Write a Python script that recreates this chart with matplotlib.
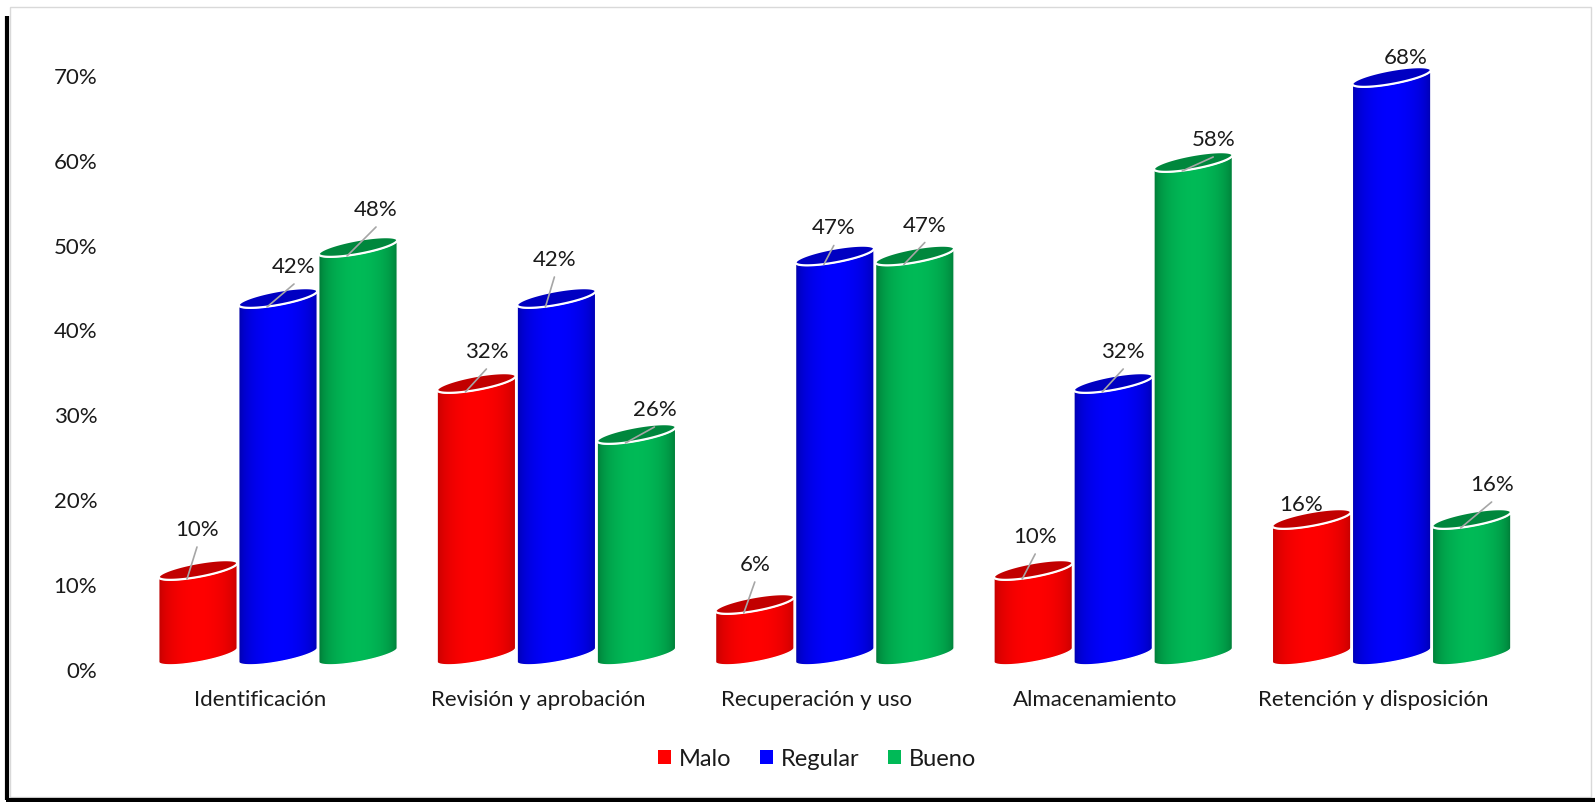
import numpy as np
import matplotlib.pyplot as plt
from matplotlib.patches import Polygon, Patch, Rectangle
from matplotlib.lines import Line2D
from matplotlib.transforms import offset_copy

plt.rcParams['font.family'] = ['Lato', 'DejaVu Sans']

categorias = ['Identificación', 'Revisión y aprobación', 'Recuperación y uso',
              'Almacenamiento', 'Retención y disposición']
series = ['Malo', 'Regular', 'Bueno']
malo = [10, 32, 6, 10, 16]
regular = [42, 42, 47, 32, 68]
bueno = [48, 26, 47, 58, 16]
valores = [malo, regular, bueno]
yticks = [0, 10, 20, 30, 40, 50, 60, 70]

# colores: lado oscuro, centro iluminado, tapa
oscuro = [(0.72, 0.0, 0.0), (0.0, 0.0, 0.62), (0.0, 0.43, 0.19)]
claro = [(1.0, 0.0, 0.0), (0.0, 0.0, 1.0), (0.0, 0.73, 0.34)]
tapa = [(0.76, 0.0, 0.0), (0.0, 0.0, 0.76), (0.0, 0.53, 0.24)]

# posicion de cada etiqueta (px) respecto al centro de la tapa
label_shift = [
    [(-1, -40), (10, -31), (0, -39), (2, -33), (-11, -14)],
    [(16, -31), (-2, -38), (-1, -27), (10, -31), (14, -19)],
    [(18, -37), (18, -24), (10, -30), (20, -22), (20, -34)],
]

W, H = 1595, 802
fig = plt.figure(figsize=(W / 100, H / 100), dpi=100)

# area de trazado en pixeles
L, R, T, B = 100, 1560, 20, 680
pos = [L / W, 1 - B / H, (R - L) / W, (B - T) / H]

# ejes para las etiquetas (pared del fondo, desplazada por la perspectiva)
ax_lbl = fig.add_axes(pos)
ax_lbl.set_xlim((L - 260) / 278.4, (R - 260) / 278.4)
ax_lbl.set_ylim((670 - B) / 8.49, (670 - T) / 8.49)
ax_lbl.set_yticks(yticks)
ax_lbl.set_yticklabels(['{}%'.format(v) for v in yticks])
ax_lbl.set_xticks(range(len(categorias)))
ax_lbl.set_xticklabels(categorias)
ax_lbl.tick_params(axis='both', length=0, labelsize=16, labelcolor='#1a1a1a')
ax_lbl.tick_params(axis='y', pad=2)
ax_lbl.tick_params(axis='x', pad=7)
ax_lbl.set_frame_on(False)
ax_lbl.patch.set_alpha(0)

# ejes para los cilindros
ax = fig.add_axes(pos)
ax.set_xlim((L - 278) / 278.4, (R - 278) / 278.4)
ax.set_ylim((655 - B) / 8.5, (655 - T) / 8.5)
ax.axis('off')
ax.patch.set_alpha(0)

ancho = 0.2874
a = 0.141   # semieje horizontal de la elipse
b = 0.82    # semieje vertical
s = 0.82    # inclinacion de la elipse

t = np.linspace(0, 2 * np.pi, 121)
frente = np.linspace(np.pi, 2 * np.pi, 61)
u = np.linspace(0, 1, 200)
luz = np.sin(np.pi * u) ** 0.45

for j, serie in enumerate(valores):
    grad = np.zeros((1, len(u), 3))
    for c in range(3):
        grad[0, :, c] = oscuro[j][c] + (claro[j][c] - oscuro[j][c]) * luz
    for i, v in enumerate(serie):
        cx = i + (j - 1) * ancho
        z = 2 + i * 3 + j
        xb = cx + a * np.cos(frente)
        yb = b * np.sin(frente) + s * np.cos(frente)
        yt = v + b * np.sin(frente[::-1]) + s * np.cos(frente[::-1])
        cuerpo = Polygon(np.column_stack([np.r_[xb, xb[::-1]], np.r_[yb, yt]]),
                         closed=True, facecolor='none', edgecolor='white',
                         lw=1.0, zorder=z + 0.2)
        ax.add_patch(cuerpo)
        im = ax.imshow(grad, extent=[cx - a, cx + a, -3, v + 3],
                       aspect='auto', zorder=z, interpolation='bilinear')
        im.set_clip_path(cuerpo)
        elipse = Polygon(np.column_stack([cx + a * np.cos(t),
                                          v + b * np.sin(t) + s * np.cos(t)]),
                         closed=True, facecolor=tapa[j], edgecolor='white',
                         lw=1.6, zorder=z + 0.3)
        ax.add_patch(elipse)

        dx, dy = label_shift[j][i]
        ax.annotate('{}%'.format(v), xy=(cx, v), xytext=(dx, -dy),
                    textcoords='offset pixels', ha='center', va='center',
                    fontsize=16, color='#1a1a1a', zorder=40)
        if (9 - (dy + 17)) > 12:
            ax.annotate('', xy=(cx, v),
                        xycoords=offset_copy(ax.transData, fig=fig, x=-11, y=-9, units='dots'),
                        xytext=(dx + 11, -(dy + 17) + 9), textcoords='offset pixels',
                        arrowprops=dict(arrowstyle='-', color='#a6a6a6', lw=1.2,
                                        shrinkA=0, shrinkB=0), zorder=z + 0.5)

handles = [Patch(facecolor=claro[k], edgecolor='none', label=series[k]) for k in range(3)]
fig.legend(handles=handles, loc='center', bbox_to_anchor=(817 / W, 1 - 759 / H),
           ncol=3, frameon=False, fontsize=17, handlelength=0.55, handleheight=0.55,
           handletextpad=0.35, columnspacing=1.2, labelcolor='#1a1a1a')

# marco del grafico con sombra
fig.add_artist(Rectangle((10 / W, 1 - 797 / H), 1581 / W, 790 / H, transform=fig.transFigure,
                         facecolor='none', edgecolor='#d9d9d9', lw=1.0))
fig.add_artist(Line2D([7 / W, 7 / W], [1 - 16 / H, 1 - 800 / H], transform=fig.transFigure,
                      color='black', lw=3.0, solid_capstyle='butt'))
fig.add_artist(Line2D([5.5 / W, 1.0], [1 - 800 / H, 1 - 800 / H], transform=fig.transFigure,
                      color='black', lw=3.0, solid_capstyle='butt'))

fig.savefig('out.png', dpi=100)
